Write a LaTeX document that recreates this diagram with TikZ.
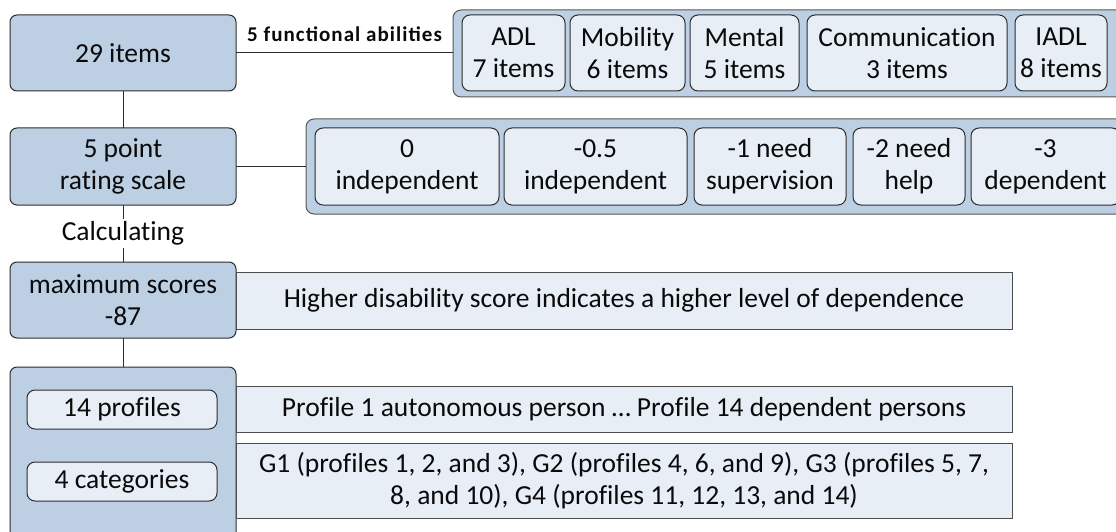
\documentclass[tikz,border=0pt]{standalone}
\usepackage{fontspec}
\setmainfont[Ligatures=NoCommon]{Carlito}
\newfontfamily\lblfont[LetterSpace=5]{Carlito}
\definecolor{dk}{RGB}{189,208,227}
\definecolor{lt}{RGB}{232,238,246}
\definecolor{ln}{RGB}{45,45,45}
\definecolor{txt}{RGB}{10,10,10}
\begin{document}
\begin{tikzpicture}[x=1pt,y=-1pt,
  every node/.style={font=\fontsize{27.5}{32}\selectfont, text=txt},
  base/.style={draw=ln, line width=1pt, inner sep=0pt, outer sep=0pt, align=center},
  dkbox/.style={base, fill=dk, rounded corners=7pt},
  grpbox/.style={base, fill=dk, rounded corners=8pt, draw=ln!80},
  ltbox/.style={base, fill=lt, rounded corners=8pt},
  flatbox/.style={base, fill=lt, draw=ln!85},
  conn/.style={draw=ln, line width=1pt},
  lbl/.style={font=\lblfont\bfseries\fontsize{21}{24}\selectfont, inner sep=3pt},
  calc/.style={fill=white, inner sep=3pt}]
\useasboundingbox (0,0) rectangle (1116,532);
\clip (0,0) rectangle (1116,532);
\fill[white] (0,0) rectangle (1116,532);

% left column
\node[dkbox, minimum width=226pt, minimum height=76pt] (b1) at (123,53) {29 items};
\node[dkbox, minimum width=226pt, minimum height=77pt] (b2) at (123,166.5) {5 point\\rating scale};
\node[dkbox, minimum width=226pt, minimum height=76pt] (b3) at (123,300) {maximum scores\\-87};
\node[dkbox, minimum width=226pt, minimum height=193pt] (b4) at (123,463.5) {};

% group 1: functional abilities
\node[grpbox, minimum width=677pt, minimum height=87pt] (g1) at (791.5,53.5) {};
\node[ltbox, minimum width=103pt, minimum height=76pt] (adl) at (513.5,53) {ADL\\7 items};
\node[ltbox, minimum width=115pt, minimum height=76pt] (mob) at (627.5,53) {Mobility\\6 items};
\node[ltbox, minimum width=109pt, minimum height=76pt] (men) at (744.5,53) {Mental\\5 items};
\node[ltbox, minimum width=200pt, minimum height=76pt] (com) at (907,53) {Communication\\3 items};
\node[ltbox, minimum width=92pt, minimum height=76pt] (iadl) at (1061,53) {IADL\\8 items};

% group 2: rating scale
\node[grpbox, minimum width=824pt, minimum height=95pt] (g2) at (718,166.5) {};
\node[ltbox, minimum width=184pt, minimum height=77pt] (r0) at (407,166.5) {0\\independent};
\node[ltbox, minimum width=183pt, minimum height=77pt] (r05) at (595.5,166.5) {-0.5\\independent};
\node[ltbox, minimum width=152pt, minimum height=77pt] (r1) at (770,166.5) {-1 need\\supervision};
\node[ltbox, minimum width=112pt, minimum height=77pt] (r2) at (909,166.5) {-2 need\\help};
\node[ltbox, minimum width=149pt, minimum height=77pt] (r3) at (1045.5,166.5) {-3\\dependent};

% right text boxes
\node[flatbox, minimum width=776pt, minimum height=57pt] (hi) at (624,300.5) {Higher disability score indicates a higher level of dependence};
\node[flatbox, minimum width=776pt, minimum height=46pt] (pr) at (624,409) {Profile 1 autonomous person … Profile 14 dependent persons};
\node[flatbox, minimum width=776pt, minimum height=75pt] (gg) at (624,480.5) {G1 (profiles 1, 2, and 3), G2 (profiles 4, 6, and 9), G3 (profiles 5, 7,\\8, and 10), G4 (profiles 11, 12, 13, and 14)};

% inner boxes of bottom block
\node[ltbox, minimum width=190pt, minimum height=39pt] (p14) at (122,409.5) {14 profiles};
\node[ltbox, minimum width=190pt, minimum height=39pt] (c4) at (122,481.5) {4 categories};

% connectors
\draw[conn] (b1.south) -- (b2.north);
\draw[conn] (b2.south) -- node[calc] (cl) {Calculating} (b3.north);
\draw[conn] (b3.south) -- (b4.north);
\draw[conn] (b1.east) -- node[lbl, above=8pt] (fa) {5 functional abilities} (b1.east -| g1.west);
\draw[conn] (b2.east) -- (b2.east -| g2.west);
\end{tikzpicture}
\end{document}
